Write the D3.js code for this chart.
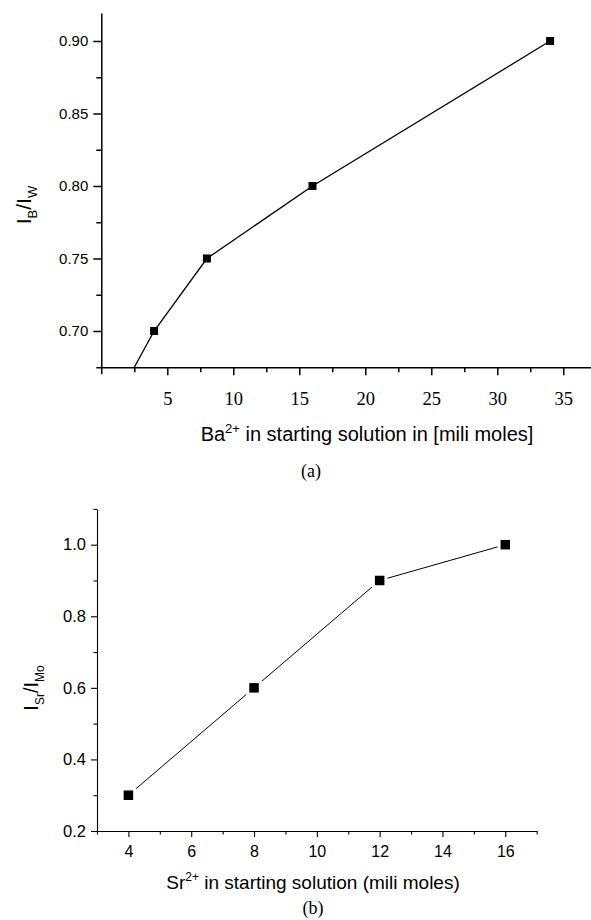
<!DOCTYPE html>
<html><head><meta charset="utf-8">
<script src="https://cdn.jsdelivr.net/npm/d3@7"></script>
<style>body{margin:0;background:#fff}svg{display:block}</style>
</head><body>
<svg id="c" width="591" height="920"></svg>
<script>
// Panel (a)
const baX = [1, 4, 8, 16, 34];
const baY = [0.65, 0.70, 0.75, 0.80, 0.90];
const baXTicks = [5, 10, 15, 20, 25, 30, 35];
const baXMinor = [2.5, 7.5, 12.5, 17.5, 22.5, 27.5, 32.5];
const baYTicks = [0.70, 0.75, 0.80, 0.85, 0.90];
const baYMinor = [0.675, 0.725, 0.775, 0.825, 0.875];
// Panel (b)
const srX = [4, 8, 12, 16];
const srY = [0.30, 0.60, 0.90, 1.00];
const srXTicks = [4, 6, 8, 10, 12, 14, 16];
const srXMinor = [3, 5, 7, 9, 11, 13, 15, 17];
const srYTicks = [0.2, 0.4, 0.6, 0.8, 1.0];
const srYMinor = [0.3, 0.5, 0.7, 0.9, 1.1];

const svg = d3.select("#c");
const SANS = "'Liberation Sans', Arial, sans-serif";
const SERIF = "'Liberation Serif', 'Times New Roman', serif";

function styleAxis(g, sw) {
  g.selectAll("path.domain").attr("stroke", "#000").attr("stroke-width", sw);
  g.selectAll(".tick line").attr("stroke", "#000").attr("stroke-width", sw);
}

// ---------- Panel (a) ----------
{
  const x = d3.scaleLinear().domain([0, 37.1]).range([101.3, 591]);
  const y = d3.scaleLinear().domain([0.675, 0.9193]).range([367.25, 13]);
  const sw = 1.5;

  svg.append("defs").append("clipPath").attr("id", "clipA")
    .append("rect").attr("x", x.range()[0]).attr("y", y.range()[1])
    .attr("width", x.range()[1] - x.range()[0]).attr("height", y.range()[0] - y.range()[1]);

  const gxMin = svg.append("g").attr("transform", `translate(0,${y.range()[0]})`)
    .call(d3.axisBottom(x).tickValues(baXMinor).tickSize(5).tickSizeOuter(0).tickFormat(""));
  gxMin.select("path.domain").remove(); styleAxis(gxMin, sw);
  const gx0 = svg.append("g").attr("transform", `translate(0,${y.range()[0]})`)
    .call(d3.axisBottom(x).tickValues([0]).tickSize(7).tickSizeOuter(0).tickFormat(""));
  gx0.select("path.domain").remove(); styleAxis(gx0, sw);
  const gx = svg.append("g").attr("transform", `translate(0,${y.range()[0]})`)
    .call(d3.axisBottom(x).tickValues(baXTicks).tickSize(8).tickSizeOuter(0).tickPadding(8).tickFormat(d3.format("d")));
  styleAxis(gx, sw);
  gx.selectAll("text").attr("font-family", SERIF).attr("font-size", 18.5).attr("fill", "#000")
    .attr("dy", null).attr("y", 0).attr("transform", "translate(0,38)");

  const gyMin = svg.append("g").attr("transform", `translate(${x.range()[0]},0)`)
    .call(d3.axisLeft(y).tickValues(baYMinor).tickSize(5).tickSizeOuter(0).tickFormat(""));
  gyMin.select("path.domain").remove(); styleAxis(gyMin, sw);
  const gy = svg.append("g").attr("transform", `translate(${x.range()[0]},0)`)
    .call(d3.axisLeft(y).tickValues(baYTicks).tickSize(8).tickSizeOuter(0).tickPadding(5).tickFormat(d3.format(".2f")));
  styleAxis(gy, sw);
  gy.selectAll("text").attr("font-family", SANS).attr("font-size", 15).attr("fill", "#000");

  const pts = baX.map((v, i) => [v, baY[i]]);
  const plot = svg.append("g").attr("clip-path", "url(#clipA)");
  plot.append("path").datum(pts)
    .attr("d", d3.line().x(d => x(d[0])).y(d => y(d[1])))
    .attr("fill", "none").attr("stroke", "#000").attr("stroke-width", 1.3);
  const ms = 8;
  plot.selectAll("rect.m").data(pts).join("rect").attr("class", "m")
    .attr("x", d => x(d[0]) - ms / 2).attr("y", d => y(d[1]) - ms / 2)
    .attr("width", ms).attr("height", ms).attr("fill", "#000");

  // axis titles
  const xt = svg.append("text").attr("x", 367).attr("y", 440.5)
    .attr("text-anchor", "middle").attr("font-family", SANS).attr("font-size", 20).attr("fill", "#000");
  xt.append("tspan").text("Ba");
  xt.append("tspan").attr("dy", -8).attr("font-size", 13).text("2+");
  xt.append("tspan").attr("dy", 8).text(" in starting solution in [mili moles]");

  const yt = svg.append("text").attr("transform", "translate(30.7,205) rotate(-90)")
    .attr("text-anchor", "middle").attr("font-family", SANS).attr("font-size", 21).attr("fill", "#000");
  yt.append("tspan").text("I");
  yt.append("tspan").attr("dy", 6).attr("font-size", 13).text("B");
  yt.append("tspan").attr("dy", -6).text("/I");
  yt.append("tspan").attr("dy", 6).attr("font-size", 13).text("W");

  svg.append("text").attr("x", 311).attr("y", 477).attr("text-anchor", "middle")
    .attr("font-family", SERIF).attr("font-size", 18).attr("fill", "#000").text("(a)");
}

// ---------- Panel (b) ----------
{
  const x = d3.scaleLinear().domain([3, 17]).range([97, 536.7]);
  const y = d3.scaleLinear().domain([0.2, 1.1]).range([831, 508.9]);
  const sw = 1.1;

  const gxMin = svg.append("g").attr("transform", `translate(0,${y.range()[0]})`)
    .call(d3.axisBottom(x).tickValues(srXMinor).tickSize(3.5).tickSizeOuter(0).tickFormat(""));
  gxMin.select("path.domain").remove(); styleAxis(gxMin, sw);
  const gx = svg.append("g").attr("transform", `translate(0,${y.range()[0]})`)
    .call(d3.axisBottom(x).tickValues(srXTicks).tickSize(6).tickSizeOuter(0).tickPadding(8).tickFormat(d3.format("d")));
  styleAxis(gx, sw);
  gx.selectAll("text").attr("font-family", SANS).attr("font-size", 16).attr("fill", "#000")
    .attr("dy", null).attr("y", 0).attr("transform", "translate(0,25.5)");

  const gyMin = svg.append("g").attr("transform", `translate(${x.range()[0]},0)`)
    .call(d3.axisLeft(y).tickValues(srYMinor).tickSize(3.5).tickSizeOuter(0).tickFormat(""));
  gyMin.select("path.domain").remove(); styleAxis(gyMin, sw);
  const gy = svg.append("g").attr("transform", `translate(${x.range()[0]},0)`)
    .call(d3.axisLeft(y).tickValues(srYTicks).tickSize(6).tickSizeOuter(0).tickPadding(5).tickFormat(d3.format(".1f")));
  styleAxis(gy, sw);
  gy.selectAll("text").attr("font-family", SANS).attr("font-size", 16.5).attr("fill", "#000");

  const pts = srX.map((v, i) => [v, srY[i]]);
  svg.append("path").datum(pts)
    .attr("d", d3.line().x(d => x(d[0])).y(d => y(d[1])))
    .attr("fill", "none").attr("stroke", "#000").attr("stroke-width", 1);
  const ms = 9.5, gap = 3;
  svg.selectAll("rect.g").data(pts).join("rect").attr("class", "g")
    .attr("x", d => x(d[0]) - ms / 2 - gap).attr("y", d => y(d[1]) - ms / 2 - gap)
    .attr("width", ms + 2 * gap).attr("height", ms + 2 * gap).attr("fill", "#fff");
  svg.selectAll("rect.n").data(pts).join("rect").attr("class", "n")
    .attr("x", d => x(d[0]) - ms / 2).attr("y", d => y(d[1]) - ms / 2)
    .attr("width", ms).attr("height", ms).attr("fill", "#000");

  const xt = svg.append("text").attr("x", 313).attr("y", 889)
    .attr("text-anchor", "middle").attr("font-family", SANS).attr("font-size", 19).attr("fill", "#000");
  xt.append("tspan").text("Sr");
  xt.append("tspan").attr("dy", -8).attr("font-size", 12).text("2+");
  xt.append("tspan").attr("dy", 8).text(" in starting solution (mili moles)");

  const yt = svg.append("text").attr("transform", "translate(37.7,688) rotate(-90)")
    .attr("text-anchor", "middle").attr("font-family", SANS).attr("font-size", 20).attr("fill", "#000");
  yt.append("tspan").text("I");
  yt.append("tspan").attr("dy", 6).attr("font-size", 12).text("Sr");
  yt.append("tspan").attr("dy", -6).text("/I");
  yt.append("tspan").attr("dy", 6).attr("font-size", 12).text("Mo");

  svg.append("text").attr("x", 313).attr("y", 914).attr("text-anchor", "middle")
    .attr("font-family", SERIF).attr("font-size", 18).attr("fill", "#000").text("(b)");
}
</script>
</body></html>
